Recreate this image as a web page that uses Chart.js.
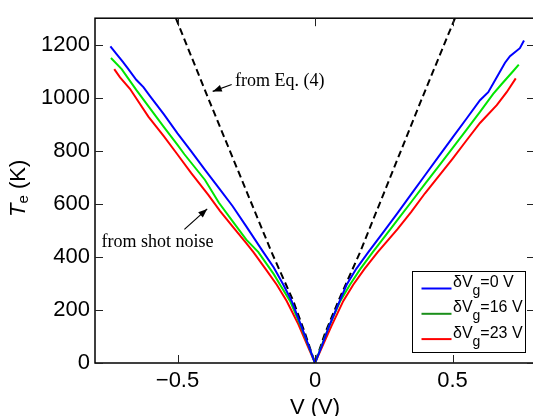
<!DOCTYPE html>
<html><head><meta charset="utf-8">
<script src="https://cdn.jsdelivr.net/npm/chart.js@4"></script>
<style>
html,body{margin:0;padding:0;overflow:hidden;background:#fff;width:533px;height:416px}
#wrap{position:absolute;left:0;top:0;width:545px;height:416px}
</style>
</head><body><div id="wrap"><canvas id="c" width="545" height="416"></canvas></div>
<script>
// ---- data ----
const xTickValues = [-0.5, 0, 0.5];
const yTickValues = [0, 200, 400, 600, 800, 1000, 1200];
const seriesLabels = ['δV_g=0 V', 'δV_g=16 V', 'δV_g=23 V'];

const vBlue = [-0.744,-0.72,-0.70,-0.68,-0.65,-0.624,-0.60,-0.55,-0.50,-0.45,-0.40,-0.35,-0.30,-0.25,-0.188,-0.15,-0.115,-0.085,-0.05,-0.025,0,0.025,0.05,0.09,0.115,0.15,0.194,0.25,0.30,0.35,0.40,0.45,0.50,0.55,0.60,0.63,0.661,0.691,0.709,0.745,0.76];
const tBlue = [1194,1163,1137,1110,1068,1040,1006,938,866,798,728,660,592,515,418,360,295,234,140,70,0,65,135,234,295,355,418,495,565,637,708,779,850,920,991,1021,1077,1132,1157,1187,1216];

const vGreen = [-0.742,-0.703,-0.65,-0.60,-0.55,-0.50,-0.475,-0.40,-0.35,-0.30,-0.25,-0.206,-0.15,-0.127,-0.091,-0.05,-0.025,0,0.025,0.05,0.09,0.127,0.165,0.21,0.25,0.30,0.35,0.40,0.45,0.50,0.55,0.60,0.648,0.679,0.721,0.741];
const tGreen = [1150,1108,1030,960,890,822,787,690,605,535,465,418,335,295,234,135,68,0,67,135,230,295,355,418,472,540,607,675,742,810,878,947,1015,1052,1101,1125];

const vRed = [-0.730,-0.709,-0.673,-0.606,-0.55,-0.5007,-0.45,-0.388,-0.345,-0.30,-0.25,-0.224,-0.18,-0.139,-0.103,-0.06,-0.03,0,0.03,0.06,0.103,0.139,0.18,0.228,0.30,0.35,0.40,0.45,0.50,0.55,0.60,0.661,0.697,0.73];
const tRed = [1108,1077,1034,929,855,787,716,634,573,515,452,418,355,295,234,145,72,0,70,140,234,295,355,418,505,570,640,705,770,838,905,972,1021,1073];

const vEq = [-0.506,-0.389,-0.158,-0.079,-0.036,0,0.036,0.085,0.164,0.39,0.509];
const tEq = [1300,1000,418,234,111,0,111,234,418,1000,1300];

// ---- helpers ----
const pts = (xs, ys) => xs.map((x, i) => ({x, y: ys[i]}));
const fmtX = v => v === 0 ? '0' : (v < 0 ? '\u2212' + Math.abs(v) : String(v));

const annotations = [
  {text: 'from Eq. (4)', x: -0.291, y: 1046, ax0: -0.303, ay0: 1050, ax1: -0.372, ay1: 1024},
  {text: 'from shot noise', x: -0.776, y: 437, ax0: -0.475, ay0: 504, ax1: -0.392, ay1: 581}
];
const legendLineColors = ['#0000ff', '#1a8f1a', '#ff0000'];

function arrow(ctx, x0, y0, x1, y1) {
  ctx.beginPath(); ctx.moveTo(x0, y0); ctx.lineTo(x1, y1);
  ctx.lineWidth = 1.2; ctx.strokeStyle = '#000'; ctx.stroke();
  const a = Math.atan2(y1 - y0, x1 - x0), L = 9, W = 3.5;
  ctx.beginPath();
  ctx.moveTo(x1, y1);
  ctx.lineTo(x1 - L*Math.cos(a) + W*Math.sin(a), y1 - L*Math.sin(a) - W*Math.cos(a));
  ctx.lineTo(x1 - L*Math.cos(a) - W*Math.sin(a), y1 - L*Math.sin(a) + W*Math.cos(a));
  ctx.closePath(); ctx.fillStyle = '#000'; ctx.fill();
}

const decor = {
  id: 'decor',
  afterDraw(chart) {
    const ctx = chart.ctx, a = chart.chartArea;
    const xs = chart.scales.x, ys = chart.scales.y;
    ctx.save();
    // frame
    ctx.strokeStyle = '#000'; ctx.lineWidth = 1.5;
    ctx.strokeRect(a.left, a.top, a.right - a.left, a.bottom - a.top);
    // inward ticks
    ctx.lineWidth = 1; ctx.strokeStyle = '#222';
    const TL = 8;
    ctx.beginPath();
    xTickValues.forEach(v => {
      const px = Math.round(xs.getPixelForValue(v)) + 0.5;
      ctx.moveTo(px, a.bottom); ctx.lineTo(px, a.bottom - TL);
      ctx.moveTo(px, a.top); ctx.lineTo(px, a.top + TL);
    });
    yTickValues.forEach(v => {
      const py = Math.round(ys.getPixelForValue(v)) + 0.5;
      ctx.moveTo(a.left, py); ctx.lineTo(a.left + TL, py);
      ctx.moveTo(a.right, py); ctx.lineTo(a.right - TL, py);
    });
    ctx.stroke();

    // annotations
    ctx.fillStyle = '#000';
    ctx.font = '18px "Liberation Serif", "DejaVu Serif", serif';
    ctx.textBaseline = 'alphabetic'; ctx.textAlign = 'left';
    annotations.forEach(n => {
      ctx.fillText(n.text, xs.getPixelForValue(n.x), ys.getPixelForValue(n.y));
      arrow(ctx, xs.getPixelForValue(n.ax0), ys.getPixelForValue(n.ay0),
                 xs.getPixelForValue(n.ax1), ys.getPixelForValue(n.ay1));
    });

    // legend
    const bx = 412.5, by = 271.5, bw = 113, bh = 81;
    ctx.fillStyle = '#fff'; ctx.fillRect(bx, by, bw, bh);
    ctx.strokeStyle = '#000'; ctx.lineWidth = 1; ctx.strokeRect(bx, by, bw, bh);
    chart.data.datasets.slice(0, 3).forEach((ds, i) => {
      const ly = 288.5 + i * 25.3;
      ctx.beginPath(); ctx.moveTo(421.5, ly); ctx.lineTo(451.5, ly);
      ctx.strokeStyle = legendLineColors[i]; ctx.lineWidth = 2; ctx.stroke();
      const [pre, post] = ds.label.split('_g');
      ctx.fillStyle = '#000'; ctx.textBaseline = 'alphabetic';
      ctx.font = '16px "Liberation Sans", Arial, sans-serif';
      let tx = 453;
      const base = ly - 1.5;
      ctx.fillText(pre, tx, base); tx += ctx.measureText(pre).width;
      ctx.font = '14px "Liberation Sans", Arial, sans-serif';
      ctx.fillText('g', tx, base + 8); tx += ctx.measureText('g').width;
      ctx.font = '16px "Liberation Sans", Arial, sans-serif';
      ctx.fillText(post, tx, base);
    });

    // axis titles
    ctx.fillStyle = '#000';
    ctx.font = '22px "Liberation Sans", Arial, sans-serif';
    ctx.textAlign = 'center'; ctx.textBaseline = 'alphabetic';
    ctx.fillText('V (V)', xs.getPixelForValue(0), 414);

    ctx.save();
    ctx.translate(25, 217);
    ctx.rotate(-Math.PI / 2);
    ctx.textAlign = 'left';
    let t = 0;
    ctx.font = 'italic 22px "Liberation Sans", Arial, sans-serif';
    ctx.fillText('T', t, 0); t += ctx.measureText('T').width;
    ctx.font = '15px "Liberation Sans", Arial, sans-serif';
    ctx.fillText('e', t, 3); t += ctx.measureText('e').width;
    ctx.font = '22px "Liberation Sans", Arial, sans-serif';
    ctx.fillText(' (K)', t, 0);
    ctx.restore();
    ctx.restore();
  }
};

const lineDs = (label, xs, ys, color) => ({
  label, data: pts(xs, ys), borderColor: color, backgroundColor: color,
  borderWidth: 2, pointRadius: 0, tension: 0, fill: false
});

new Chart(document.getElementById('c'), {
  type: 'line',
  data: {
    datasets: [
      lineDs(seriesLabels[0], vBlue, tBlue, '#0000ff'),
      lineDs(seriesLabels[1], vGreen, tGreen, '#00e600'),
      lineDs(seriesLabels[2], vRed, tRed, '#ff0000'),
      Object.assign(lineDs('from Eq. (4)', vEq, tEq, '#000'), {borderDash: [7, 4], borderWidth: 2})
    ]
  },
  options: {
    responsive: false, animation: false, devicePixelRatio: 1,
    layout: {padding: {left: 0, top: 12, right: 10, bottom: 0}},
    plugins: {legend: {display: false}, tooltip: {enabled: false}},
    scales: {
      x: {
        type: 'linear', min: -0.8, max: 0.8,
        afterBuildTicks: s => { s.ticks = xTickValues.map(v => ({value: v})); },
        afterFit: s => { s.height = 53; },
        grid: {display: false, drawTicks: false},
        border: {display: false},
        ticks: {padding: 5, color: '#000', font: {size: 22, family: '"Liberation Sans", Arial, sans-serif'},
                maxRotation: 0, autoSkip: false, callback: v => fmtX(v)}
      },
      y: {
        type: 'linear', min: 0, max: 1300,
        afterBuildTicks: s => { s.ticks = yTickValues.map(v => ({value: v})); },
        afterFit: s => { s.width = 95; },
        grid: {display: false, drawTicks: false},
        border: {display: false},
        ticks: {padding: 5, color: '#000', font: {size: 22, family: '"Liberation Sans", Arial, sans-serif'},
                autoSkip: false, callback: v => String(v)}
      }
    }
  },
  plugins: [decor]
});
</script>
</body></html>
